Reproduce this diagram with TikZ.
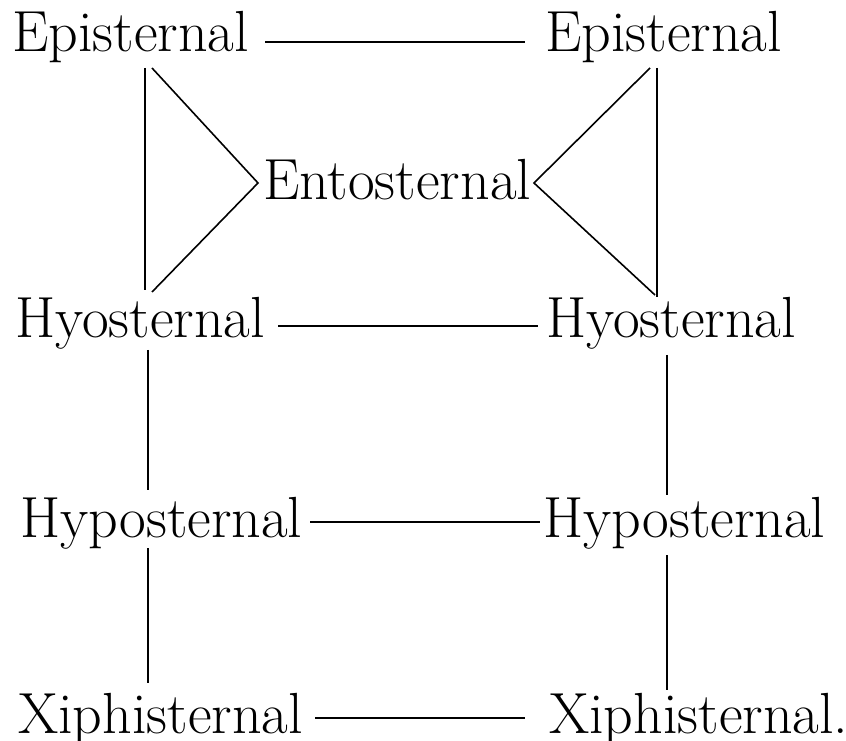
\documentclass[tikz,border=0pt]{standalone}
\usetikzlibrary{calc}
\begin{document}
\begin{tikzpicture}[x=1pt,y=1pt,
  lbl/.style={inner sep=0pt,anchor=base west,font=\fontsize{58}{66}\selectfont},
  link/.style={line width=1.6pt,black}]
\useasboundingbox (0,0) rectangle (846,740);
\node[lbl] (eL) at (12,688) {Episternal};
\node[lbl] (eR) at (545,688) {Episternal};
\node[lbl] (en) at (263,540) {Entosternal};
\node[lbl] (hL) at (15,402) {Hyosternal};
\node[lbl] (hR) at (546,402) {Hyosternal};
\node[lbl] (pL) at (20,203) {Hyposternal};
\node[lbl] (pR) at (543,203) {Hyposternal};
\node[lbl] (xL) at (18,7) {Xiphisternal};
\node[lbl] (xR) at (549,7) {Xiphisternal.};
% horizontals
\draw[link] ($(eL.base west)+(253,10)$) -- ($(eR.base west)+(-20,10)$);
\draw[link] ($(hL.base west)+(263,12)$) -- ($(hR.base west)+(-8,12)$);
\draw[link] ($(pL.base west)+(290,15)$) -- ($(pR.base west)+(-3,15)$);
\draw[link] ($(xL.base west)+(297,15)$) -- ($(xR.base west)+(-24,15)$);
% entosternal triangles
\draw[link] ($(eL.base west)+(140,-16)$) -- ($(en.base west)+(-5,17)$) -- ($(hL.base west)+(137,46)$);
\draw[link] ($(eR.base west)+(105,-16)$) -- ($(en.base west)+(271,17)$) -- ($(hR.base west)+(109,43)$);
% verticals
\draw[link] ($(eL.base west)+(133,-16)$) -- ($(hL.base west)+(130,48)$);
\draw[link] ($(eR.base west)+(112,-16)$) -- ($(hR.base west)+(111,41)$);
\draw[link] ($(hL.base west)+(133,-12)$) -- ($(pL.base west)+(128,47)$);
\draw[link] ($(hR.base west)+(121,-17)$) -- ($(pR.base west)+(124,42)$);
\draw[link] ($(pL.base west)+(128,-11)$) -- ($(xL.base west)+(130,50)$);
\draw[link] ($(pR.base west)+(124,-18)$) -- ($(xR.base west)+(118,43)$);
\end{tikzpicture}
\end{document}
